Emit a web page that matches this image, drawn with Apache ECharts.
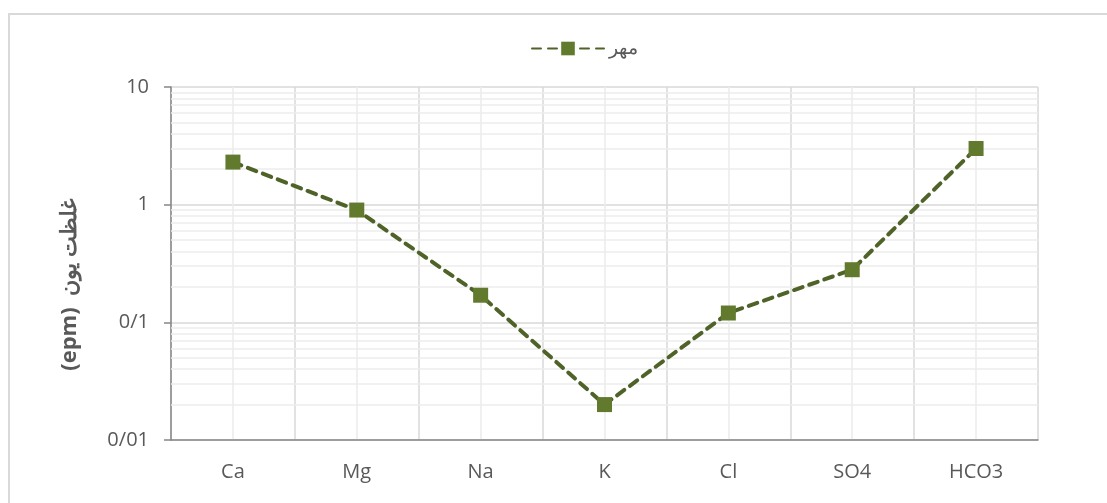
<!DOCTYPE html>
<html>
<head>
<meta charset="utf-8">
<script src="https://cdn.jsdelivr.net/npm/echarts@6/dist/echarts.min.js"></script>
<style>
  html, body { margin: 0; padding: 0; background: #fff; }
  #chart { width: 1107px; height: 503px; }
</style>
</head>
<body>
<div id="chart"></div>
<script>
// Ion concentrations (epm), log scale
const ions = ['Ca', 'Mg', 'Na', 'K', 'Cl', 'SO4', 'HCO3'];
const mehrValues = [2.3, 0.9, 0.17, 0.02, 0.12, 0.28, 3.0];
const seriesName = 'مهر';
const yAxisTitle = '(epm)  غلظت یون';
// light gridlines between decades (2..9 of each decade)
const minorGridValues = [];
[0.01, 0.1, 1].forEach(function (d) {
  for (let k = 2; k <= 9; k++) minorGridValues.push(+(d * k).toPrecision(3));
});

const textColor = '#595959';
const lineColor = '#4f6228';
const markerColor = '#617a2e';
const fontFamily = '"Open Sans", "Noto Sans", sans-serif';

const chart = echarts.init(document.getElementById('chart'));
chart.setOption({
  animation: false,
  textStyle: { fontFamily: fontFamily },
  graphic: [{
    type: 'rect',
    shape: { x: 9, y: 14, width: 1200, height: 600 },
    style: { fill: 'none', stroke: '#d9d9d9', lineWidth: 2 },
    silent: true,
    z: -10
  }],
  legend: {
    top: 34,
    left: 526,
    itemWidth: 72,
    itemHeight: 17,
    itemGap: 6,
    textStyle: { color: textColor, fontSize: 19, fontFamily: fontFamily },
    data: [{ name: seriesName }]
  },
  grid: { left: 171, right: 69, top: 87, bottom: 63 },
  xAxis: [{
    type: 'category',
    data: ions,
    boundaryGap: true,
    axisLine: { lineStyle: { color: '#868686', width: 1.5 } },
    axisTick: { alignWithLabel: true, length: 5, lineStyle: { color: '#868686', width: 1.5 } },
    axisLabel: { color: textColor, fontSize: 20, margin: 22 },
    splitLine: { show: false }
  }, {
    // vertical gridlines: category boundaries (darker) and centres (lighter)
    type: 'value',
    min: 0, max: 7, interval: 1,
    position: 'top',
    axisLine: { show: false },
    axisTick: { show: false },
    axisLabel: { show: false },
    splitLine: { show: true, lineStyle: { color: '#d9d9d9', width: 1.5 } },
    minorTick: { show: false, splitNumber: 2 },
    minorSplitLine: { show: true, lineStyle: { color: '#ececec', width: 1.5 } }
  }],
  yAxis: {
    type: 'log',
    logBase: 10,
    min: 0.01,
    max: 10,
    name: yAxisTitle,
    nameLocation: 'middle',
    nameGap: 90,
    nameRotate: 90,
    nameTextStyle: {
      color: textColor, fontSize: 22, fontWeight: 'bold', fontFamily: fontFamily,
      padding: [0, 42, 0, 0]
    },
    axisLine: { show: true, lineStyle: { color: '#868686', width: 1.5 } },
    axisTick: { show: true, length: 7, lineStyle: { color: '#868686', width: 1.5 } },
    axisLabel: {
      color: textColor, fontSize: 20, margin: 22,
      formatter: function (v) { return String(+v.toPrecision(3)).replace('.', '/'); }
    },
    splitLine: { show: true, lineStyle: { color: '#d9d9d9', width: 1.5 } }
  },
  series: [{
    name: seriesName,
    type: 'line',
    xAxisIndex: 0,
    data: mehrValues,
    symbol: 'rect',
    symbolSize: 15,
    itemStyle: { color: markerColor },
    lineStyle: { color: lineColor, width: 4, type: [9, 7], cap: 'round' },
    z: 5,
    markLine: {
      silent: true,
      symbol: ['none', 'none'],
      label: { show: false },
      lineStyle: { color: '#ececec', width: 1.5, type: 'solid' },
      z: 1,
      data: minorGridValues.map(function (v) { return { yAxis: v }; })
    }
  }]
});
</script>
</body>
</html>
